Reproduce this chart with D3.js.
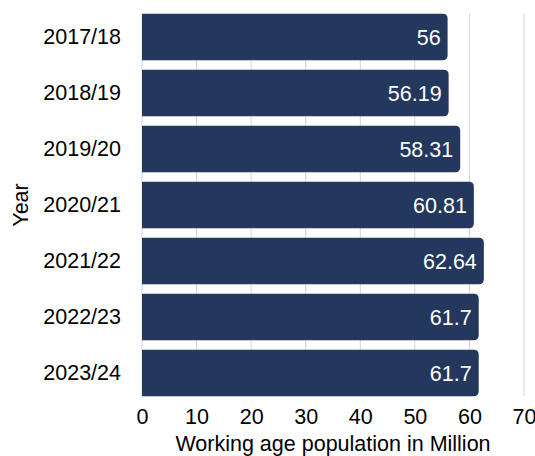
<!DOCTYPE html>
<html>
<head>
<meta charset="utf-8">
<script src="https://cdn.jsdelivr.net/npm/d3@7"></script>
<style>
  body { margin: 0; background: #fff; }
  text { font-family: "Liberation Sans", Arial, Helvetica, sans-serif; }
</style>
</head>
<body>
<script>
const width = 535;
const height = 456;

// data
const years = ["2017/18", "2018/19", "2019/20", "2020/21", "2021/22", "2022/23", "2023/24"];
const population = [56, 56.19, 58.31, 60.81, 62.64, 61.7, 61.7];
const xTicks = [0, 10, 20, 30, 40, 50, 60, 70];

const svg = d3.select('body').append('svg').attr('width', width).attr('height', height);

const x = d3.scaleLinear().domain([0, 70]).range([142, 524]);
const y = d3.scaleBand().domain(years).range([9, 401]).paddingInner(0.17).paddingOuter(0.085);

//gridlines
svg.selectAll("line.grid")
  .data(xTicks)
  .enter()
  .append("line")
  .attr("class", "grid")
  .attr("x1", d => x(d))
  .attr("x2", d => x(d))
  .attr("y1", y(years[0]))
  .attr("y2", y(years[years.length - 1]) + y.bandwidth())
  .style("stroke", "#d4d4d4")
  .style("stroke-width", 1);

const rows = years.map((yr, i) => ({year: yr, value: population[i]}));
const r = 5;

// bars, rounded on the right side only
svg.selectAll("path.bar")
  .data(rows)
  .enter()
  .append("path")
  .attr("class", "bar")
  .attr("d", d => {
    const x0 = x(0), x1 = x(d.value), y0 = y(d.year), h = y.bandwidth();
    return `M${x0},${y0}H${x1 - r}Q${x1},${y0} ${x1},${y0 + r}V${y0 + h - r}Q${x1},${y0 + h} ${x1 - r},${y0 + h}H${x0}Z`;
  })
  .style("fill", "#24375d");

svg.selectAll("text.value")
  .data(rows)
  .enter()
  .append("text")
  .attr("class", "value")
  .attr("x", d => x(d.value) - 7)
  .attr("y", d => y(d.year) + y.bandwidth() / 2)
  .attr("dy", "0.36em")
  .attr("text-anchor", "end")
  .style("font-size", "21.5px")
  .style("fill", "#fff")
  .text(d => d.value);

// y axis labels
const yAxis = svg.append("g")
  .attr("transform", "translate(142,0)")
  .call(d3.axisLeft(y).tickSize(0).tickPadding(21));
yAxis.select(".domain").remove();
yAxis.selectAll("text").style("font-size", "21.5px").style("fill", "#000").style("font-family", "Liberation Sans, Arial, sans-serif");

// x axis labels
const xAxis = svg.append("g")
  .attr("transform", "translate(0,401)")
  .call(d3.axisBottom(x).tickValues(xTicks).tickSize(0).tickPadding(8));
xAxis.select(".domain").remove();
xAxis.selectAll("text").style("font-size", "21.5px").style("fill", "#000").style("font-family", "Liberation Sans, Arial, sans-serif");

svg.append("text")
  .attr("x", x(35))
  .attr("y", 451)
  .attr("text-anchor", "middle")
  .style("font-size", "21.5px")
  .text("Working age population in Million");

svg.append("text")
  .attr("transform", "translate(28,205) rotate(-90)")
  .attr("text-anchor", "middle")
  .style("font-size", "21.5px")
  .text("Year");
</script>
</body>
</html>
